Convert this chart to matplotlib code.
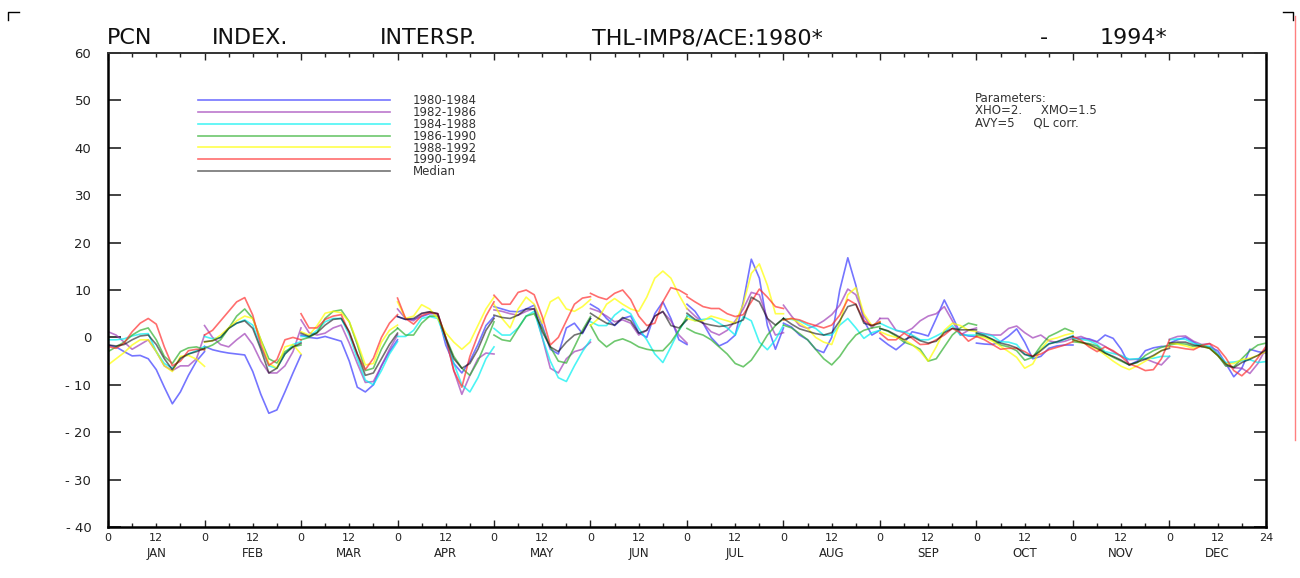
import numpy as np
import matplotlib.pyplot as plt
from matplotlib.lines import Line2D
from matplotlib.ticker import FixedLocator, FuncFormatter

# hours of the day sampled in each month (UT)
hours = np.arange(0, 25, 2)
months = ["JAN", "FEB", "MAR", "APR", "MAY", "JUN",
          "JUL", "AUG", "SEP", "OCT", "NOV", "DEC"]
labels = ["1980-1984", "1982-1986", "1984-1988", "1986-1990",
          "1988-1992", "1990-1994", "Median"]

# one row per month, one value per 2 hours
p1980_1984 = [
    [-1.6, -2.0, -3.0, -3.9, -3.8, -4.5, -6.8, -10.5, -14.0, -11.5, -8.0, -5.0, -3.0],
    [-1.9, -2.6, -3.0, -3.3, -3.5, -3.7, -7.2, -12.0, -16.0, -15.3, -11.5, -7.5, -3.7],
    [0.5, 0.0, -0.2, 0.2, -0.3, -0.8, -5.0, -10.5, -11.5, -10.0, -6.0, -3.0, -0.5],
    [4.4, 3.8, 3.8, 4.4, 5.0, 5.0, -1.6, -5.5, -7.5, -5.0, -1.5, 2.5, 4.4],
    [6.5, 6.0, 5.5, 5.4, 6.0, 6.8, 2.5, -2.5, -3.5, 2.0, 3.0, 0.8, 4.0],
    [7.0, 6.0, 4.0, 2.5, 4.0, 4.5, 1.0, 0.0, 5.0, 7.5, 4.0, -0.5, -1.5],
    [7.0, 5.5, 3.0, 0.0, -1.8, -1.0, 0.5, 7.5, 16.5, 12.5, 2.5, -2.5, 2.0],
    [3.0, 2.2, 0.5, -0.5, -2.5, -3.2, 0.0, 10.0, 16.8, 11.0, 3.5, 0.5, 1.5],
    [-0.2, -1.5, -2.6, -1.2, 1.2, 0.8, 0.3, 4.0, 7.9, 4.5, 0.8, 0.3, 0.2],
    [-1.2, -1.4, -1.5, -0.9, 0.3, 1.8, -1.0, -4.5, -4.0, -2.3, -1.8, -1.6, -1.6],
    [-0.2, -0.2, -0.3, -0.9, 0.5, -0.2, -2.5, -5.8, -5.0, -2.8, -2.2, -1.9, -1.9],
    [-1.2, -0.5, 0.0, -1.0, -2.0, -2.0, -2.8, -5.5, -8.3, -6.5, -2.5, -3.0, -3.3],
]
p1982_1986 = [
    [1.2, 0.5, -1.0, -2.5, -1.5, -0.5, -3.0, -6.0, -7.0, -6.0, -6.0, -4.5, 0.5],
    [2.5, 0.0, -1.5, -2.0, -0.5, 0.8, -1.5, -5.0, -7.5, -7.5, -6.0, -3.0, 2.0],
    [3.7, 1.0, 0.5, 0.9, 2.0, 2.6, -1.2, -5.5, -9.5, -9.3, -6.0, -2.5, 0.5],
    [6.0, 4.0, 3.5, 5.0, 5.4, 5.0, 0.0, -7.0, -12.0, -8.0, -4.5, -3.3, -3.5],
    [5.8, 5.5, 5.0, 4.7, 5.5, 6.1, 0.0, -6.5, -7.5, -4.5, -3.0, -2.5, -1.0],
    [6.1, 5.5, 4.5, 3.3, 3.7, 3.0, 0.5, 1.5, 4.5, 5.4, 3.5, 0.5, -1.2],
    [6.1, 4.5, 3.0, 1.2, 0.5, 1.5, 3.5, 6.0, 9.5, 9.0, 4.0, 0.5, 1.0],
    [6.8, 4.5, 2.5, 1.9, 2.5, 3.5, 4.8, 6.8, 10.2, 9.0, 4.5, 2.0, 4.0],
    [4.0, 4.0, 1.5, 1.0, 1.9, 3.5, 4.5, 5.0, 6.5, 3.5, 0.5, 1.5, 2.0],
    [1.2, 0.8, 0.5, 0.5, 1.9, 2.4, 1.0, -0.1, 0.5, -0.7, -1.1, -0.8, -0.2],
    [-0.2, 0.2, -0.5, -1.0, -1.9, -3.0, -4.0, -4.7, -4.6, -4.5, -5.2, -5.8, -4.0],
    [-0.4, 0.2, 0.3, -0.8, -1.5, -1.3, -3.5, -6.0, -6.4, -6.5, -7.6, -5.5, -2.3],
]
p1984_1988 = [
    [-0.5, -0.5, -0.3, 0.3, 0.7, 0.8, -3.0, -5.5, -6.5, -4.6, -3.5, -2.8, -1.9],
    [0.2, -0.3, 0.0, 1.9, 3.0, 3.7, 2.6, -2.0, -6.0, -6.5, -3.5, -1.5, -0.9],
    [0.2, 0.2, 1.5, 3.3, 4.0, 4.0, 0.5, -4.5, -9.0, -10.0, -7.0, -3.5, -0.9],
    [0.2, 0.2, 1.5, 4.0, 4.4, 4.0, -0.5, -5.5, -10.0, -11.5, -8.5, -4.5, -2.0],
    [1.9, 0.5, 0.5, 2.0, 4.5, 5.5, 0.0, -5.0, -8.5, -9.3, -6.0, -3.0, -0.5],
    [3.3, 2.5, 2.5, 4.7, 6.0, 5.0, 1.9, -0.5, -3.5, -5.3, -2.0, 1.5, 4.0],
    [4.7, 3.5, 3.8, 4.0, 3.0, 2.0, 0.5, 4.4, 3.5, -1.0, -2.6, -0.5, 2.6],
    [4.0, 3.8, 3.5, 2.6, 1.9, 0.5, 0.5, 2.6, 4.0, 2.0, -0.2, 1.0, 1.5],
    [3.0, 2.2, 1.5, 1.2, 0.5, -0.5, -0.5, 0.3, 1.2, 2.5, 0.5, 0.5, 0.5],
    [0.9, 0.7, 0.3, -0.9, -1.0, -1.5, -3.5, -4.3, -2.5, -1.3, -1.0, -0.4, 0.4],
    [-0.2, -0.4, -0.7, -1.5, -3.0, -3.4, -3.8, -4.6, -4.5, -4.4, -4.4, -4.0, -4.0],
    [-0.5, -0.3, -0.4, -1.3, -1.6, -1.9, -3.5, -5.3, -5.2, -4.9, -4.7, -5.3, -5.1],
]
p1986_1990 = [
    [-3.0, -2.0, -1.0, 0.5, 1.5, 2.0, -0.5, -4.0, -5.5, -3.0, -2.2, -2.0, -2.6],
    [-2.3, -1.6, -0.5, 1.9, 4.5, 6.0, 4.0, -0.5, -4.5, -5.4, -3.0, -2.0, -1.6],
    [-0.5, 0.0, 1.0, 4.0, 5.5, 5.8, 3.3, -1.5, -7.0, -6.5, -2.5, 0.5, 1.9],
    [2.0, 0.5, 0.5, 3.0, 4.5, 4.5, 0.0, -4.0, -6.5, -8.0, -5.0, -1.0, 3.3],
    [0.5, -0.5, -0.8, 1.9, 4.5, 5.0, 1.9, -2.0, -5.0, -5.4, -2.0, 1.5, 4.4],
    [2.6, -0.5, -2.0, -0.8, -0.3, -1.0, -2.0, -2.5, -2.8, -2.8, -1.0, 1.5, 4.4],
    [1.9, 1.0, 0.5, -0.5, -2.0, -3.5, -5.5, -6.2, -4.8, -2.3, 0.5, 2.5, 4.0],
    [2.6, 2.0, 0.8, -0.5, -2.5, -4.5, -5.8, -4.0, -1.5, 0.5, 1.5, 2.0, 2.3],
    [1.9, 1.3, 0.3, -1.0, -1.6, -2.5, -5.0, -4.5, -2.0, 0.5, 2.0, 3.0, 2.6],
    [0.5, 0.2, -0.5, -1.6, -2.0, -2.8, -4.8, -4.2, -1.8, 0.2, 1.0, 1.9, 1.2],
    [-0.9, -1.1, -1.3, -1.8, -3.3, -4.2, -5.0, -5.8, -5.3, -3.8, -2.8, -2.1, -1.6],
    [-1.6, -1.3, -1.4, -1.9, -1.6, -2.3, -3.8, -6.0, -6.2, -4.5, -2.8, -1.6, -1.2],
]
p1988_1992 = [
    [-5.8, -4.5, -3.2, -1.6, -0.5, -0.5, -3.0, -6.0, -7.2, -4.0, -3.8, -4.6, -6.1],
    [-1.0, -0.7, 0.5, 2.0, 3.5, 4.5, 4.0, -0.5, -5.5, -6.5, -2.0, -1.5, -3.5],
    [1.2, 0.5, 2.5, 5.1, 5.5, 5.2, 3.3, -1.0, -5.8, -5.5, -1.0, 1.5, 2.6],
    [7.5, 4.0, 4.5, 6.9, 6.0, 4.0, 1.0, -1.0, -2.5, -1.0, 2.5, 6.0, 8.5],
    [7.0, 4.0, 2.0, 6.0, 8.5, 7.0, 3.0, 7.5, 8.5, 6.0, 5.5, 6.5, 8.0],
    [2.5, 4.0, 7.0, 8.2, 7.0, 6.0, 5.5, 8.5, 12.5, 14.0, 12.5, 9.0, 6.0],
    [4.0, 3.5, 3.5, 4.5, 4.0, 3.5, 3.0, 7.0, 13.5, 15.5, 11.0, 5.0, 5.0],
    [3.7, 4.0, 3.0, 1.9, 0.0, -1.0, -1.5, 3.0, 9.0, 10.5, 5.0, 2.5, 3.3],
    [1.2, 0.5, 0.0, -0.5, -1.5, -3.0, -5.0, -2.0, 1.5, 3.0, 2.5, 1.5, 1.2],
    [0.2, 0.0, -0.8, -1.9, -3.0, -4.2, -6.5, -5.6, -2.5, -0.5, -0.1, 0.5, 0.9],
    [-0.5, -1.0, -1.7, -2.5, -3.7, -5.0, -6.1, -6.8, -6.0, -5.0, -4.0, -2.8, -1.9],
    [-1.2, -1.4, -1.8, -2.3, -1.9, -2.3, -3.8, -5.6, -5.5, -4.7, -4.4, -3.8, -3.0],
]
p1990_1994 = [
    [-1.9, -2.3, -1.2, 1.2, 3.0, 4.0, 2.8, -2.0, -6.0, -5.0, -2.8, -2.5, -2.6],
    [0.5, 1.5, 3.5, 5.5, 7.5, 8.4, 4.7, -1.6, -5.9, -4.7, -0.5, 0.0, -0.5],
    [5.0, 2.0, 2.0, 3.8, 4.5, 4.8, 1.0, -3.5, -6.8, -4.4, 0.0, 3.0, 4.8],
    [8.3, 4.0, 2.8, 4.6, 5.2, 5.0, 0.0, -7.0, -10.5, -4.0, 0.5, 4.5, 7.5],
    [8.9, 7.0, 7.0, 9.5, 10.0, 9.0, 4.4, -1.6, 0.0, 3.5, 7.0, 8.3, 8.6],
    [9.3, 8.5, 8.0, 9.3, 10.0, 8.0, 4.5, 2.5, 3.0, 7.5, 10.5, 10.0, 9.0],
    [8.6, 7.5, 6.5, 6.1, 6.1, 5.0, 4.4, 4.8, 7.5, 10.2, 8.5, 6.5, 6.1],
    [3.7, 4.0, 3.7, 3.0, 2.5, 2.0, 2.6, 4.7, 8.0, 7.0, 3.5, 2.5, 3.3],
    [0.9, -0.5, -0.5, 0.9, -0.2, -1.5, -1.4, -0.5, 0.5, 1.9, 1.0, -0.8, 0.2],
    [0.2, -0.5, -1.5, -2.5, -2.3, -2.3, -3.0, -4.0, -3.5, -2.6, -2.1, -1.6, -0.9],
    [0.2, -0.6, -2.0, -3.0, -2.0, -2.8, -4.0, -5.6, -6.2, -7.0, -6.8, -4.5, -0.5],
    [-1.9, -2.1, -2.4, -2.6, -1.7, -1.3, -2.2, -4.3, -7.0, -8.1, -6.5, -4.3, -1.9],
]
median = [
    [-1.6, -1.8, -1.5, -0.5, 0.3, 0.5, -1.5, -4.5, -6.8, -4.4, -3.5, -3.0, -2.3],
    [-0.9, -0.7, 0.0, 1.9, 3.0, 3.5, 1.9, -2.5, -7.5, -6.5, -3.5, -2.0, -1.2],
    [0.9, 0.2, 1.0, 2.6, 3.8, 4.0, 1.2, -3.5, -8.0, -7.5, -4.5, -1.5, 0.9],
    [4.4, 3.8, 4.0, 5.1, 5.4, 5.0, -0.2, -4.5, -6.5, -5.5, -2.5, 1.5, 4.0],
    [4.7, 4.2, 4.0, 4.7, 6.0, 6.0, 1.2, -2.0, -3.0, -1.0, 0.5, 1.0, 4.0],
    [5.1, 4.0, 3.0, 2.6, 4.2, 3.5, 0.9, 1.5, 4.5, 5.5, 2.5, 2.0, 3.7],
    [5.1, 3.8, 3.0, 2.6, 2.3, 2.5, 3.0, 3.7, 8.5, 7.5, 4.0, 2.6, 4.0],
    [4.0, 2.8, 1.8, 1.3, 0.8, 0.5, 1.0, 3.5, 6.5, 7.0, 3.0, 2.5, 3.0],
    [1.9, 1.4, 0.5, -0.5, 0.2, -0.7, -1.2, -0.8, 1.0, 1.9, 1.6, 1.6, 1.6],
    [0.9, 0.4, -0.4, -1.2, -1.6, -2.2, -3.6, -4.0, -2.8, -1.4, -0.9, -0.3, 0.2],
    [-0.5, -1.0, -1.5, -2.3, -3.3, -4.0, -4.8, -5.8, -5.2, -4.6, -3.8, -2.8, -2.3],
    [-1.2, -1.0, -1.0, -1.6, -1.9, -2.3, -3.8, -5.6, -6.4, -5.3, -4.6, -3.8, -2.6],
]

series = [p1980_1984, p1982_1986, p1984_1988, p1986_1990, p1988_1992, p1990_1994, median]
colors = ["#3a3aff", "#a040b8", "#00f0f0", "#30b030", "#ffff00", "#ff3030", "#000000"]

fig = plt.figure(figsize=(13, 5.78), dpi=100)
ax = fig.add_axes([0.0831, 0.0882, 0.8907, 0.8201])

handles = []
for data, col, lab in zip(series, colors, labels):
    a = 0.55 if lab == "Median" else 0.7
    for m, row in enumerate(data):
        ln, = ax.plot(24 * m + hours, row, color=col, lw=1.2, alpha=a)
    handles.append(ln)

ax.set_xlim(0, 288)
ax.set_ylim(-40, 60)

# x axis: tall ticks at month starts, short ones every 6 h
ax.xaxis.set_major_locator(FixedLocator(np.arange(0, 289, 24)))
ax.xaxis.set_minor_locator(FixedLocator([h for h in range(0, 289, 6) if h % 24]))
ax.xaxis.set_major_formatter(FuncFormatter(lambda v, p: "24" if v == 288 else "0"))
ax.xaxis.set_minor_formatter(FuncFormatter(lambda v, p: "12" if v % 24 == 12 else ""))
ax.tick_params(axis="x", which="major", direction="in", length=5, width=1,
               top=True, pad=4, labelsize=8, colors="#222222")
ax.tick_params(axis="x", which="minor", direction="in", length=3, width=1,
               top=True, pad=4, labelsize=8, colors="#222222")

ax.set_yticks(np.arange(-40, 61, 10))
ax.yaxis.set_major_formatter(FuncFormatter(
    lambda v, p: "- %d" % abs(v) if v < 0 else "%d" % v))
ax.tick_params(axis="y", direction="in", length=9, width=1.2, right=True,
               pad=12, labelsize=9.5, colors="#222222")

for side in ["left", "bottom", "right"]:
    ax.spines[side].set_linewidth(1.8)
    ax.spines[side].set_color("black")
ax.spines["top"].set_linewidth(1.4)
ax.spines["top"].set_color("#333333")

for m, name in enumerate(months):
    ax.text(24 * m + 12, -0.055, name, transform=ax.get_xaxis_transform(),
            ha="center", va="center", fontsize=8.5, color="#222222")

leg = ax.legend(handles, labels, loc="upper left", bbox_to_anchor=(0.0777, 0.913),
                frameon=False, fontsize=8.5, handlelength=16.3, handletextpad=1.9,
                labelspacing=-0.1, borderpad=0, borderaxespad=0)
for t in leg.get_texts():
    t.set_color("#333333")

ax.text(0.749, 0.918, "Parameters:\nXHO=2.     XMO=1.5\nAVY=5     QL corr.",
        transform=ax.transAxes, ha="left", va="top", fontsize=8.5,
        linespacing=0.95, color="#333333")

# title words spread across the top like the plotter output
title_words = ["PCN", "INDEX.", "INTERSP.", "THL-IMP8/ACE:1980*", "-", "1994*"]
title_x = [107, 212, 380, 592, 1040, 1100]
for w, x in zip(title_words, title_x):
    fig.text(x / 1300, 1 - 38 / 578, w, ha="left", va="center", fontsize=16,
             color="#111111")

# corner marks and the pink frame line at the right edge
fig.add_artist(Line2D([8 / 1300, 8 / 1300, 19 / 1300], [1 - 20 / 578, 1 - 12 / 578, 1 - 12 / 578],
                      color="black", lw=1, transform=fig.transFigure))
fig.add_artist(Line2D([1283 / 1300, 1293 / 1300, 1293 / 1300], [1 - 12 / 578, 1 - 12 / 578, 1 - 20 / 578],
                      color="black", lw=1, transform=fig.transFigure))
fig.add_artist(Line2D([1295 / 1300, 1295 / 1300], [1 - 16 / 578, 1 - 440 / 578],
                      color="#ff8080", lw=1, transform=fig.transFigure))

fig.savefig("out.png", dpi=100, facecolor="white")
